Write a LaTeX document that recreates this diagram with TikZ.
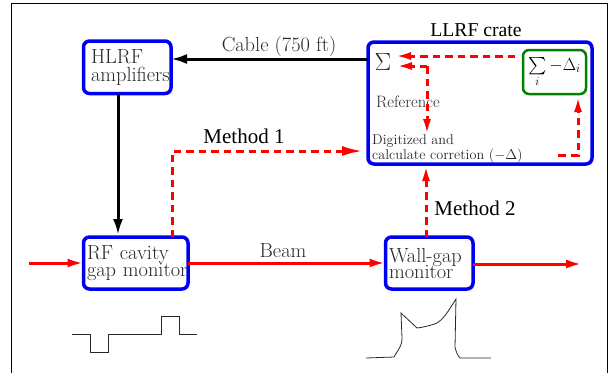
\documentclass[tikz,border=0pt]{standalone}
\usepackage{amsmath}
\usepackage{fontspec}
\usepackage{tikz}
\usetikzlibrary{arrows.meta,positioning,calc}
\newfontfamily\timesfont{Liberation Serif}
\definecolor{boxblue}{RGB}{0,0,240}
\definecolor{boxgreen}{RGB}{0,130,0}
\definecolor{txtgrey}{RGB}{40,40,40}
\newcommand{\labelfont}{\fontsize{20.4}{18}\selectfont}
\tikzset{
  bluebox/.style={rectangle, rounded corners=6pt, draw=boxblue, line width=3.5pt, align=left,
                  inner ysep=0pt, outer sep=0pt, text=txtgrey, font=\labelfont},
  greenbox/.style={rectangle, rounded corners=6pt, draw=boxgreen, line width=2.5pt, inner sep=0pt, outer sep=0pt,
                   font=\fontsize{17.5}{17.5}\selectfont},
  lab/.style={text=txtgrey, inner sep=0pt, font=\labelfont},
  smalllab/.style={text=txtgrey, inner sep=0pt, align=left, font=\fontsize{16.5}{12}\selectfont},
  timeslab/.style={inner sep=0pt, font=\timesfont\fontsize{21}{21}\selectfont},
  blackarr/.style={-{Latex[length=16pt,width=10pt]}, line width=3pt, draw=black},
  redarr/.style={-{Latex[length=16pt,width=9pt]}, line width=3pt, draw=red},
  reddash/.style={-{Latex[length=16pt,width=8pt]}, line width=3pt, draw=red, dash pattern=on 7.5pt off 5pt},
  wave/.style={line width=0.8pt, draw=txtgrey},
}
\begin{document}
\begin{tikzpicture}[x=1pt,y=-1pt]
  \useasboundingbox (0,0) rectangle (615,373);
  % frame
  \coordinate (fa) at (11,373); \coordinate (fb) at (11,3.5);
  \coordinate (fc) at (607,3.5); \coordinate (fd) at (607,373);
  \draw[line width=1pt] (fa) -- (fb) -- (fc) -- (fd);
  % boxes
  \node[bluebox, minimum height=52.5pt, inner xsep=7.5pt, text width=72.5pt] (hlrf) at (127.25,67.25)
    {HLRF\\\mbox{amplifiers}};
  \node[bluebox, minimum height=52pt, inner xsep=3.5pt, text width=97.5pt] (rf) at (135.75,263)
    {RF cavity\\[-1pt]\mbox{gap monitor}};
  \node[bluebox, minimum height=52pt, inner xsep=3.5pt, text width=80.5pt] (wall) at (429.25,263)
    {\mbox{Wall-gap}\\[-2pt]monitor};
  \node[bluebox, minimum width=224pt, minimum height=122pt] (llrf) at (480,103) {};
  \node[greenbox, minimum width=63pt, minimum height=44pt] (sum) at (554.5,72)
    {$\textstyle\sum\limits_i-\Delta_i$};
  % labels
  \node[timeslab, font=\timesfont\fontsize{19.7}{20}\selectfont] (crate) at (476,30) {LLRF crate};
  \node[lab] (cable) at (279,46) {Cable (750 ft)};
  \node[lab] (beam) at (283,251) {Beam};
  \node[timeslab] (m1) at (244,136) {Method 1};
  \node[timeslab] (m2) at (475,208) {Method 2};
  \node[lab, font=\fontsize{24}{24}\selectfont] (sigma) at (383,62) {$\Sigma$};
  \node[smalllab] (ref) at (408,102) {Reference};
  \node[smalllab, anchor=west, font=\fontsize{14.2}{12}\selectfont] (digi) at (372,149)
    {Digitized and\\calculate corretion ($-\Delta$)};
  % coordinates of the free ends
  \coordinate (cablein) at (llrf.west |- 0,59);
  \coordinate (beamin) at (29,263);
  \coordinate (beamout) at (582,264);
  \coordinate (m1start) at (172,237);
  \coordinate (m1turn) at (172,151);
  \coordinate (m1end) at (363,151);
  \coordinate (m2start) at (426,237);
  \coordinate (m2end) at (426,165);
  \coordinate (sigA) at (395,56);
  \coordinate (sigB) at (396,66);
  \coordinate (sumout) at (515,56);
  \coordinate (refturn) at (427,66);
  \coordinate (refend) at (427,135);
  \coordinate (corrstart) at (558,155);
  \coordinate (corrturn) at (578,155);
  \coordinate (corrend) at (578,96);
  % connectors
  \draw[blackarr] (cablein) -- (hlrf.east |- cablein);
  \draw[blackarr] (hlrf.south -| 118,0) -- (118,235);
  \draw[redarr] (beamin) -- (rf.west);
  \draw[redarr] (rf.east) -- (wall.west);
  \draw[redarr] (wall.east |- beamout) -- (beamout);
  \draw[reddash, -{Latex[length=21pt,width=10pt]}] (m1start) -- (m1turn) -- (m1end);
  \draw[reddash] (m2start) -- (m2end);
  \draw[reddash] (sumout) -- (sigA);
  \draw[reddash] (refturn) -- (sigB);
  \draw[reddash] (refturn) -- (refend);
  \draw[reddash] (corrstart) -- (corrturn) -- (corrend);
  % waveforms
  \draw[wave, line width=1pt] (72,334) -- (90,334) -- (90,352) -- (108,352) -- (108,334) -- (161,334)
    -- (161,316) -- (179,316) -- (179,334) -- (197,334);
  \draw[wave] (366,358) -- (394,357) .. controls (399,348) and (402,346) .. (402,338) -- (401,313)
    -- (417,328) .. controls (425,327) and (432,325) .. (437,323)
    .. controls (445,318) and (450,308) .. (456,299) -- (455,347)
    .. controls (456,352) and (458,356) .. (460,358) -- (491,358);
\end{tikzpicture}
\end{document}
